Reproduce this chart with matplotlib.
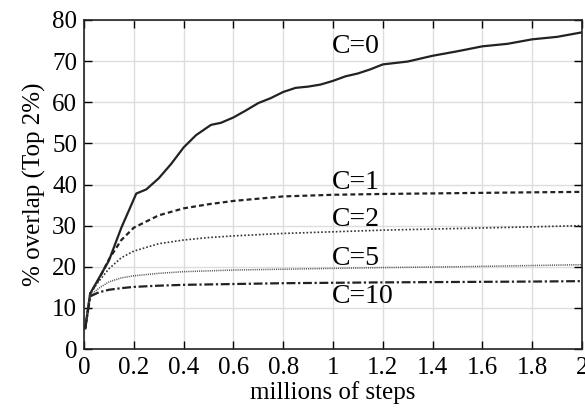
import matplotlib.pyplot as plt
import numpy as np

plt.rcParams["font.family"] = ["Liberation Serif", "DejaVu Serif"]
plt.rcParams["mathtext.fontset"] = "stix"

X_C0 = [0.005, 0.025, 0.1, 0.15, 0.21, 0.25, 0.3, 0.35, 0.4, 0.45, 0.51, 0.55, 0.6, 0.65,
        0.7, 0.75, 0.8, 0.85, 0.9, 0.95, 1.0, 1.05, 1.1, 1.15, 1.2, 1.3, 1.4, 1.5, 1.6,
        1.7, 1.8, 1.9, 2.0]
Y_C0 = [5.0, 13.5, 21.5, 29.5, 37.8, 38.8, 41.5, 45.0, 49.0, 52.0, 54.5, 55.0, 56.3, 58.0,
        59.8, 61.0, 62.5, 63.5, 63.8, 64.3, 65.2, 66.3, 67.0, 68.0, 69.2, 69.9, 71.3, 72.4,
        73.6, 74.2, 75.3, 75.9, 77.0]

X_CURVES = [0.005, 0.025, 0.06, 0.1, 0.15, 0.2, 0.3, 0.4, 0.5, 0.6, 0.8, 1.0, 1.2, 1.5, 1.8, 2.0]
Y_C1 = [5.0, 13.5, 17.0, 21.8, 26.5, 29.5, 32.5, 34.2, 35.2, 36.0, 37.1, 37.5, 37.7, 37.9, 38.1, 38.2]
Y_C2 = [5.0, 13.5, 16.5, 19.5, 22.2, 23.8, 25.6, 26.5, 27.1, 27.5, 28.1, 28.5, 28.9, 29.3, 29.7, 30.0]
Y_C5 = [5.0, 13.0, 14.8, 16.3, 17.3, 17.8, 18.4, 18.8, 19.0, 19.2, 19.4, 19.6, 19.8, 20.0, 20.3, 20.5]
Y_C10 = [5.0, 12.8, 13.8, 14.4, 14.8, 15.1, 15.4, 15.6, 15.7, 15.8, 16.0, 16.1, 16.2, 16.3, 16.4, 16.5]

LABELS = ["C=0", "C=1", "C=2", "C=5", "C=10"]
LABEL_Y = [73.5, 40.5, 31.5, 22.0, 12.7]


def main():
    fig = plt.figure(figsize=(5.85, 4.12), dpi=100)
    ax = fig.add_axes([84 / 585, 63 / 412, 498 / 585, 329 / 412])

    ax.plot(X_C0, Y_C0, color="#222222", linewidth=1.6, linestyle="-")
    ax.plot(X_CURVES, Y_C1, color="#222222", linewidth=1.6, linestyle=(0, (2.2, 1.4)))
    ax.plot(X_CURVES, Y_C2, color="#333333", linewidth=1.2, linestyle=(0, (1, 1.2)))
    ax.plot(X_CURVES, Y_C5, color="#555555", linewidth=1.1, linestyle=(0, (0.7, 0.7)))
    ax.plot(X_CURVES, Y_C10, color="#222222", linewidth=1.6, linestyle=(0, (4, 1.2, 1, 1.2)))

    for label, y in zip(LABELS, LABEL_Y):
        ax.text(0.995, y, label, fontsize=20, ha="left", va="center", color="black")

    ax.set_xlim(0, 2)
    ax.set_ylim(0, 80)
    ax.set_xticks(np.arange(0, 2.01, 0.2))
    ax.set_xticklabels(["0", "0.2", "0.4", "0.6", "0.8", "1", "1.2", "1.4", "1.6", "1.8", "2"])
    ax.set_yticks(np.arange(0, 81, 10))
    ax.tick_params(direction="in", length=6, width=1, top=True, right=True, labelsize=18)
    ax.tick_params(axis="x", pad=6)
    ax.tick_params(axis="y", pad=5)
    ax.grid(True, color="#dddddd", linewidth=1)
    ax.set_axisbelow(True)
    for spine in ax.spines.values():
        spine.set_linewidth(1.2)
        spine.set_color("#222222")

    ax.set_xlabel("millions of steps", fontsize=18, labelpad=1)
    ax.set_ylabel("% overlap (Top 2%)", fontsize=18, labelpad=4)

    fig.savefig("out.png", dpi=100)
    plt.close(fig)


if __name__ == "__main__":
    main()
